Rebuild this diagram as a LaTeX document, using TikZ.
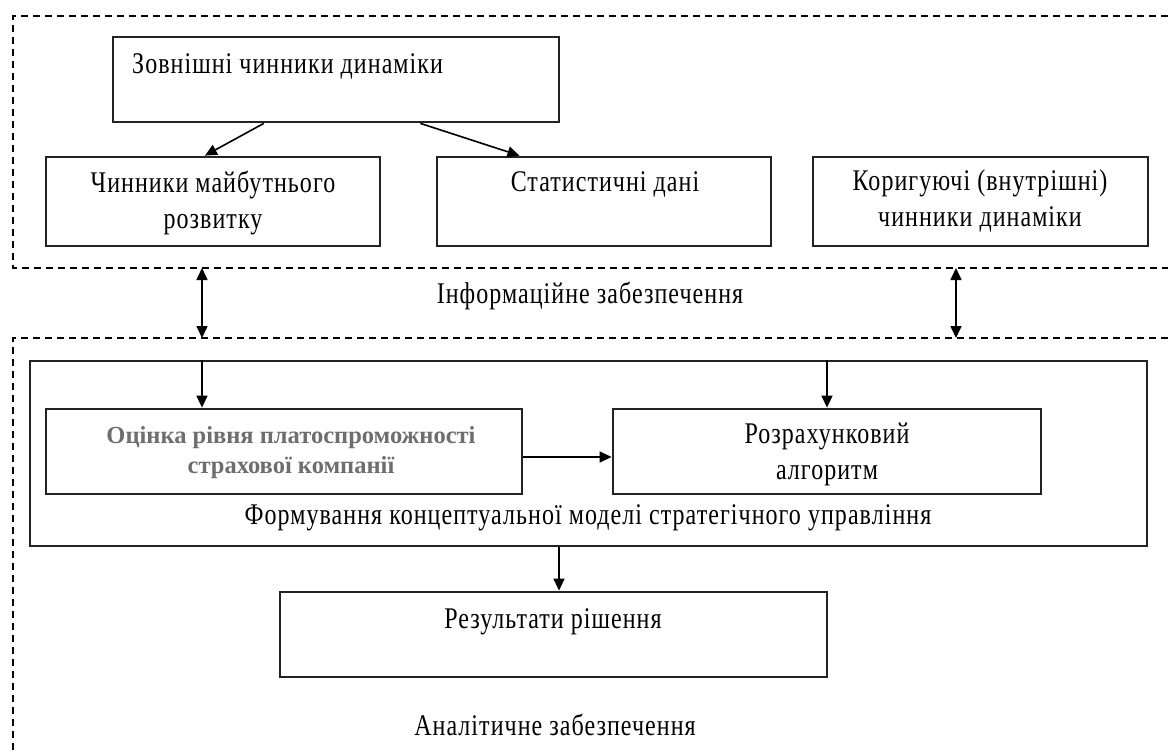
\documentclass[tikz,border=0pt]{standalone}
\usepackage{fontspec}
\setmainfont{Liberation Serif}[FakeStretch=0.8, LetterSpace=3.5]
\newfontfamily\boldserif{Liberation Serif}
\usetikzlibrary{arrows.meta,calc}
\definecolor{boxline}{RGB}{35,35,35}
\definecolor{greytext}{RGB}{110,110,110}
\tikzset{
  boxnode/.style={draw=boxline, line width=2.8pt, rectangle, inner sep=0pt},
  dashline/.style={draw=black, line width=1.6pt, dash pattern=on 7pt off 5pt},
  arr/.style={draw=black, line width=1.6pt, -{Triangle[length=12pt,width=11pt]}},
  darr/.style={draw=black, line width=1.6pt, {Triangle[length=12pt,width=11pt]}-{Triangle[length=12pt,width=11pt]}},
  lbl/.style={font=\fontsize{30}{36}\selectfont, inner sep=0pt, align=center},
  blbl/.style={font=\boldserif\fontsize{24.5}{30}\selectfont\bfseries, text=greytext, inner sep=0pt, align=center}
}
\begin{document}
\begin{tikzpicture}[x=1pt,y=-1pt]
\useasboundingbox[fill=white] (0,0) rectangle (1168,755);

% dashed frames
\draw[dashline] (1168,16) -- (13,16) -- (13,268) -- (1168,268);
\draw[dashline] (1168,338) -- (13,338) -- (13,755);
\coordinate (infoL) at (202,268);
\coordinate (infoR) at (956,268);
\coordinate (analL) at (202,338);
\coordinate (analR) at (956,338);

% top boxes
\node[boxnode, minimum width=446pt, minimum height=85pt] (ext) at (336,79.5) {};
\node[lbl, anchor=west] (extT) at (132,66) {Зовнішні чинники динаміки};

\node[boxnode, minimum width=334pt, minimum height=89pt] (fut) at (213,201.5) {};
\node[lbl] (futT) at (213,203) {Чинники майбутнього\\розвитку};

\node[boxnode, minimum width=334pt, minimum height=89pt] (stat) at (604,201.5) {};
\node[lbl] (statT) at (605,184) {Статистичні дані};

\node[boxnode, minimum width=335pt, minimum height=89pt] (corr) at (980.5,201.5) {};
\node[lbl] (corrT) at (980,201) {Коригуючі (внутрішні)\\чинники динаміки};

\node[lbl] (info) at (590,296) {Інформаційне забезпечення};

% lower boxes
\node[boxnode, minimum width=1117pt, minimum height=185pt] (big) at (588.5,453.5) {};
\node[boxnode, minimum width=476pt, minimum height=85pt] (ocin) at (284,451.5) {};
\node[blbl] (ocinT) at (291,453) {Оцінка рівня платоспроможності\\страхової компанії};
\node[boxnode, minimum width=428pt, minimum height=85pt] (algo) at (827,451.5) {};
\node[lbl] (algoT) at (827,454) {Розрахунковий\\алгоритм};
\node[lbl] (form) at (588,518) {Формування концептуальної моделі стратегічного управління};

\node[boxnode, minimum width=547pt, minimum height=85pt] (res) at (553.5,634.5) {};
\node[lbl] (resT) at (553,622) {Результати рішення};
\node[lbl] (anal) at (555,725) {Аналітичне забезпечення};

% connectors
\draw[arr] ($(ext.south west)!0.339!(ext.south east)$) -- ($(fut.north west)!0.476!(fut.north east)$);
\draw[arr] ($(ext.south west)!0.688!(ext.south east)$) -- ($(stat.north west)!0.249!(stat.north east)$);
\draw[darr] (infoL) -- (analL);
\draw[darr] (infoR) -- (analR);
\draw[arr] (big.north -| infoL) -- (ocin.north -| infoL);
\draw[arr] (big.north -| algo.north) -- (algo.north);
\draw[arr] ([yshift=-5.5pt]ocin.east) -- ([yshift=-5.5pt]algo.west);
\draw[arr] (big.south -| 559,0) -- (res.north -| 559,0);
\end{tikzpicture}
\end{document}
